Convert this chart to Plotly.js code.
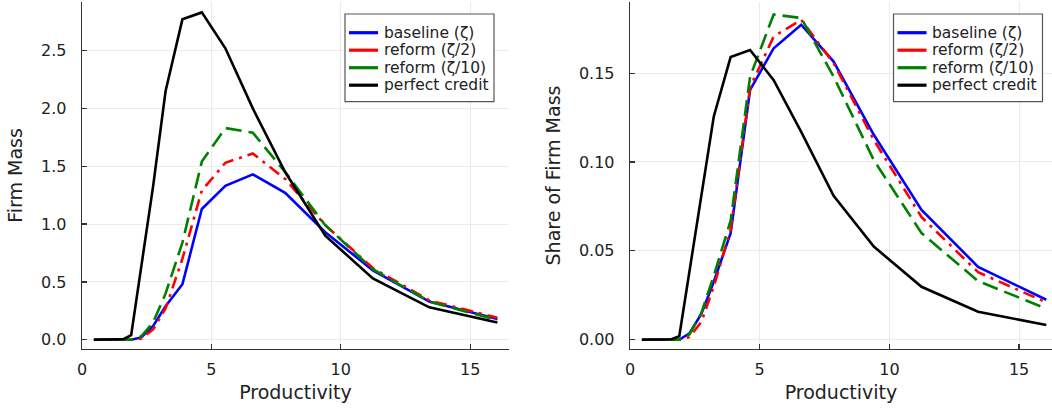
<!DOCTYPE html>
<html>
<head>
<meta charset="utf-8">
<script src="https://cdn.plot.ly/plotly-3.0.1.min.js"></script>
<style>
  html, body { margin: 0; padding: 0; background: #ffffff; }
  #chart { width: 1052px; height: 412px; }
</style>
</head>
<body>
<div id="chart"></div>
<script>
// Productivity grid (x values)
const productivity = [0.46, 0.55, 0.66, 0.79, 0.94, 1.12, 1.34, 1.60, 1.90, 2.29, 2.75, 3.23, 3.88, 4.63, 5.54, 6.60, 7.85, 9.40, 11.24, 13.42, 16.05];

// Left panel: Firm Mass
const massBaseline = [0, 0, 0, 0, 0, 0, 0, 0, 0.00, 0.02, 0.12, 0.29, 0.48, 1.13, 1.33, 1.43, 1.27, 0.93, 0.60, 0.33, 0.18];
const massReform2  = [0, 0, 0, 0, 0, 0, 0, 0, 0.00, 0.01, 0.09, 0.27, 0.70, 1.29, 1.53, 1.61, 1.39, 0.99, 0.62, 0.34, 0.19];
const massReform10 = [0, 0, 0, 0, 0, 0, 0, 0, 0.00, 0.03, 0.15, 0.40, 0.84, 1.54, 1.83, 1.79, 1.45, 0.99, 0.61, 0.33, 0.17];
const massPerfect  = [0, 0, 0, 0, 0, 0, 0, 0.005, 0.04, 0.62, 1.33, 2.15, 2.77, 2.83, 2.52, 2.00, 1.45, 0.90, 0.53, 0.28, 0.15];

// Right panel: Share of Firm Mass
const shareBaseline = [0, 0, 0, 0, 0, 0, 0, 0, 0.000, 0.0036, 0.0145, 0.0326, 0.060, 0.1406, 0.164, 0.1772, 0.1565, 0.1153, 0.073, 0.041, 0.0225];
const shareReform2  = [0, 0, 0, 0, 0, 0, 0, 0, 0.000, 0.0015, 0.010, 0.030, 0.062, 0.142, 0.1706, 0.180, 0.1556, 0.1124, 0.069, 0.038, 0.021];
const shareReform10 = [0, 0, 0, 0, 0, 0, 0, 0, 0.000, 0.003, 0.015, 0.036, 0.067, 0.148, 0.183, 0.181, 0.148, 0.101, 0.060, 0.033, 0.0175];
const sharePerfect  = [0, 0, 0, 0, 0, 0, 0, 0.0003, 0.002, 0.038, 0.079, 0.1256, 0.159, 0.163, 0.146, 0.117, 0.081, 0.0524, 0.0298, 0.0158, 0.0083];

const seriesNames = ['baseline (ζ)', 'reform (ζ/2)', 'reform (ζ/10)', 'perfect credit'];
const seriesColors = ['#0000ff', '#ff0000', '#008000', '#000000'];
const seriesDash = ['solid', '12px,6px,3px,6px', '16px,7px', 'solid'];

const xTickVals = [0, 5, 10, 15];
const massTicks = [0, 0.5, 1.0, 1.5, 2.0, 2.5];
const shareTicks = [0, 0.05, 0.10, 0.15];

const LW = 2.6;
const leftSets = [massBaseline, massReform2, massReform10, massPerfect];
const rightSets = [shareBaseline, shareReform2, shareReform10, sharePerfect];

const traces = [];
leftSets.forEach((ys, i) => {
  traces.push({
    x: productivity, y: ys, xaxis: 'x', yaxis: 'y', mode: 'lines', name: seriesNames[i],
    line: { color: seriesColors[i], width: LW, dash: seriesDash[i] },
    showlegend: false, hoverinfo: 'skip'
  });
});
rightSets.forEach((ys, i) => {
  traces.push({
    x: productivity, y: ys, xaxis: 'x2', yaxis: 'y2', mode: 'lines', name: seriesNames[i],
    line: { color: seriesColors[i], width: LW, dash: seriesDash[i] },
    showlegend: false, hoverinfo: 'skip'
  });
});

const FONT = 'DejaVu Sans, sans-serif';
const axisCommon = {
  showline: true, linecolor: '#333333', linewidth: 1.3,
  ticks: 'inside', ticklen: 5, tickwidth: 1.2, tickcolor: '#333333',
  showgrid: true, gridcolor: '#ebebeb', gridwidth: 1,
  zeroline: false, mirror: false,
  tickfont: { family: FONT, size: 16, color: '#222222' }
};

const W = 1052, H = 412;
const mL = 82, mR = 0, mT = 2, mB = 63;
const pw = W - mL - mR, ph = H - mT - mB;
const px2x = p => (p - mL) / pw;
const px2y = p => (H - mB - p) / ph;

// Legend boxes drawn as a framed key (solid samples, tight rows as in reference)
const shapes = [];
const annotations = [];
function addKey(left) {
  const top = 14, bottom = 101.7, right = left + 149;
  shapes.push({ type: 'rect', xref: 'paper', yref: 'paper',
    x0: px2x(left), x1: px2x(right), y0: px2y(bottom), y1: px2y(top),
    line: { color: '#555555', width: 1.2 }, fillcolor: '#ffffff', layer: 'above' });
  seriesNames.forEach((nm, i) => {
    const rowY = 32.7 + i * 17.5;
    shapes.push({ type: 'line', xref: 'paper', yref: 'paper',
      x0: px2x(left + 4), x1: px2x(left + 33), y0: px2y(rowY), y1: px2y(rowY),
      line: { color: seriesColors[i], width: 3.2 }, layer: 'above' });
    annotations.push({ xref: 'paper', yref: 'paper', x: px2x(left + 36.5), y: px2y(rowY),
      xanchor: 'left', yanchor: 'middle', showarrow: false, text: nm,
      font: { family: FONT, size: 15.5, color: '#222222' } });
  });
}
addKey(345);
addKey(893.5);

const TITLE_FONT = { family: FONT, size: 19, color: '#222222' };

const layout = {
  width: W, height: H,
  margin: { l: mL, r: mR, t: mT, b: mB },
  paper_bgcolor: '#ffffff', plot_bgcolor: '#ffffff',
  font: { family: FONT, color: '#222222' },
  showlegend: false,
  xaxis: Object.assign({}, axisCommon, {
    domain: [0, px2x(509)], range: [0, 16.5], anchor: 'y',
    tickvals: xTickVals, ticktext: xTickVals.map(String),
    ticklabelstandoff: 5,
    title: { text: 'Productivity', font: TITLE_FONT, standoff: 8 }
  }),
  yaxis: Object.assign({}, axisCommon, {
    domain: [0, 1], range: [-0.08, 2.92], anchor: 'x',
    tickvals: massTicks, ticktext: massTicks.map(v => v.toFixed(1)),
    ticklabelstandoff: 11,
    title: { text: 'Firm Mass', font: TITLE_FONT, standoff: 13 }
  }),
  xaxis2: Object.assign({}, axisCommon, {
    domain: [px2x(630), 1], range: [0, 16.27], anchor: 'y2',
    tickvals: xTickVals, ticktext: xTickVals.map(String),
    ticklabelstandoff: 5,
    title: { text: 'Productivity', font: TITLE_FONT, standoff: 8 }
  }),
  yaxis2: Object.assign({}, axisCommon, {
    domain: [0, 1], range: [-0.0052, 0.190], anchor: 'x2',
    tickvals: shareTicks, ticktext: shareTicks.map(v => v.toFixed(2)),
    ticklabelstandoff: 11,
    title: { text: 'Share of Firm Mass', font: TITLE_FONT, standoff: 13 }
  }),
  shapes: shapes,
  annotations: annotations
};

Plotly.newPlot('chart', traces, layout, { displayModeBar: false, staticPlot: true });
</script>
</body>
</html>
